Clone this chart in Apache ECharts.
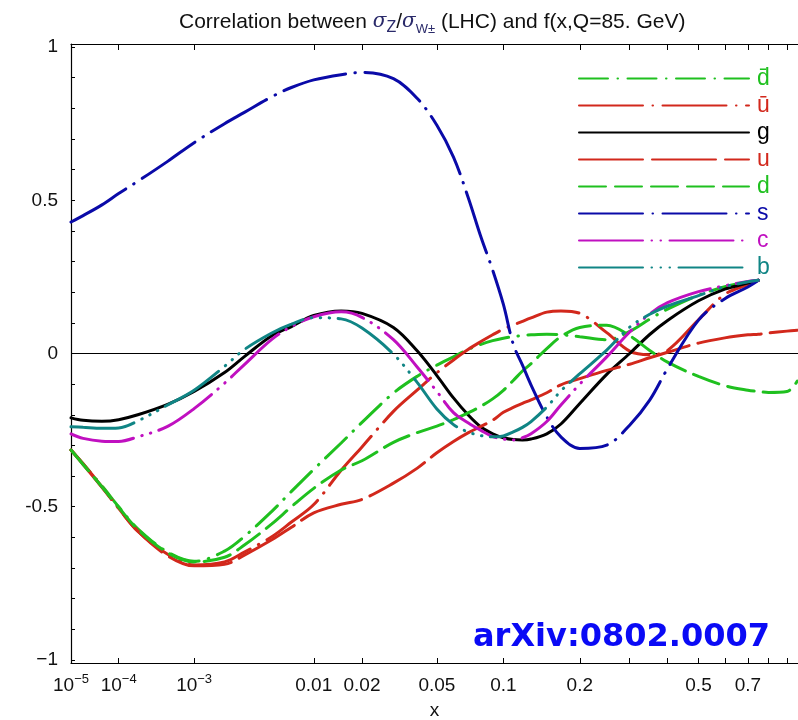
<!DOCTYPE html>
<html>
<head>
<meta charset="utf-8">
<script src="https://cdn.jsdelivr.net/npm/echarts@6/dist/echarts.min.js"></script>
<style>
  html, body { margin: 0; padding: 0; background: #fff; }
  #chart { width: 798px; height: 720px; }
</style>
</head>
<body>
<div id="chart"></div>
<script>
// x grid (momentum fraction) shared by all curves
const xValues = [1e-5, 2e-5, 5e-5, 1e-4, 2e-4, 5e-4, 1e-3, 2e-3, 3e-3, 5e-3, 7e-3,
  0.01, 0.015, 0.02, 0.03, 0.04, 0.05, 0.06, 0.07, 0.08, 0.09, 0.1, 0.11, 0.12, 0.13,
  0.15, 0.17, 0.2, 0.25, 0.3, 0.35, 0.4, 0.5, 0.6, 0.7, 0.75, 0.8, 0.9, 0.96];

// correlation cos(phi) for each parton flavour
const dbarValues = [-0.315, -0.360, -0.432, -0.500, -0.572, -0.648, -0.678, -0.645, -0.597, -0.515, -0.450,
  -0.378, -0.292, -0.225, -0.129, -0.074, -0.038, -0.011, 0.013, 0.030, 0.042, 0.050, 0.055, 0.059, 0.061,
  0.063, 0.061, 0.055, 0.045, 0.072, 0.112, 0.145, 0.190, 0.218, 0.233, 0.239];
const ubarValues = [-0.315, -0.362, -0.437, -0.505, -0.580, -0.655, -0.690, -0.680, -0.648, -0.598, -0.550,
  -0.493, -0.381, -0.305, -0.189, -0.119, -0.063, -0.021, 0.013, 0.039, 0.061, 0.080, 0.093, 0.105, 0.116,
  0.135, 0.139, 0.131, 0.068, 0.008, -0.004, 0.010, 0.110, 0.193, 0.225, 0.239];
const gValues = [-0.210, -0.218, -0.221, -0.216, -0.200, -0.166, -0.124, -0.062, -0.010, 0.058, 0.088,
  0.124, 0.139, 0.131, 0.085, 0.008, -0.072, -0.145, -0.200, -0.240, -0.262, -0.275, -0.281, -0.282, -0.279,
  -0.262, -0.230, -0.163, -0.068, 0.000, 0.062, 0.108, 0.172, 0.210, 0.230, 0.239];
const uValues = [-0.315, -0.360, -0.435, -0.505, -0.580, -0.660, -0.693, -0.688, -0.658, -0.608, -0.567,
  -0.520, -0.492, -0.476, -0.423, -0.374, -0.324, -0.287, -0.259, -0.238, -0.218, -0.192, -0.176, -0.163, -0.151,
  -0.128, -0.102, -0.082, -0.055, -0.035, -0.014, 0.004, 0.034, 0.051, 0.061, 0.063, 0.067, 0.073, 0.076];
const dValues = [-0.315, -0.362, -0.435, -0.502, -0.574, -0.650, -0.680, -0.665, -0.625, -0.556, -0.500,
  -0.440, -0.380, -0.350, -0.290, -0.258, -0.237, -0.216, -0.194, -0.172, -0.148, -0.120, -0.088, -0.057, -0.033,
  0.016, 0.055, 0.085, 0.092, 0.058, 0.010, -0.028, -0.075, -0.105, -0.120, -0.124, -0.127, -0.124, -0.090];
const sValues = [0.429, 0.450, 0.485, 0.522, 0.562, 0.627, 0.688, 0.750, 0.787, 0.838, 0.868,
  0.893, 0.910, 0.917, 0.897, 0.832, 0.745, 0.641, 0.511, 0.380, 0.272, 0.160, 0.030, -0.038, -0.103,
  -0.207, -0.272, -0.310, -0.299, -0.234, -0.152, -0.049, 0.109, 0.179, 0.217, 0.239];
const cValues = [-0.262, -0.277, -0.286, -0.287, -0.272, -0.238, -0.180, -0.097, -0.036, 0.046, 0.088,
  0.120, 0.136, 0.118, 0.045, -0.045, -0.124, -0.193, -0.226, -0.251, -0.271, -0.279, -0.282, -0.275, -0.262,
  -0.222, -0.168, -0.100, -0.011, 0.070, 0.129, 0.166, 0.202, 0.221, 0.235, 0.239];
const bValues = [-0.239, -0.241, -0.244, -0.243, -0.220, -0.168, -0.120, -0.042, 0.013, 0.067, 0.096,
  0.117, 0.113, 0.083, -0.002, -0.095, -0.181, -0.232, -0.256, -0.268, -0.272, -0.269, -0.256, -0.241, -0.222,
  -0.175, -0.122, -0.066, 0.011, 0.086, 0.128, 0.155, 0.189, 0.218, 0.234, 0.239];

// axis ticks and labels
const xTickValues = [1e-5, 1e-4, 1e-3, 0.01, 0.02, 0.05, 0.1, 0.2, 0.3, 0.4, 0.5, 0.6, 0.7, 0.8, 0.9];
const xLabelValues = [1e-5, 1e-4, 1e-3, 0.01, 0.02, 0.05, 0.1, 0.2, 0.5, 0.7];
const xLabelTexts = ['{b|10}{s|\u22125}', '{b|10}{s|\u22124}', '{b|10}{s|\u22123}',
  '{b|0.01}', '{b|0.02}', '{b|0.05}', '{b|0.1}', '{b|0.2}', '{b|0.5}', '{b|0.7}'];
const yTickValues = [-1, -0.9, -0.8, -0.7, -0.6, -0.5, -0.4, -0.3, -0.2, -0.1, 0,
  0.1, 0.2, 0.3, 0.4, 0.5, 0.6, 0.7, 0.8, 0.9, 1];
const yLabelValues = [-1, -0.5, 0, 0.5, 1];
const yLabelTexts = ['\u22121', '-0.5', '0', '0.5', '1'];

// horizontal scale: x is plotted as x^0.2
const POWER = 0.2;
const tx = x => Math.pow(x, POWER);
const X_MIN = tx(1e-5) - 1e-9;
const X_MAX = 0.99273;

const FONT = 'Liberation Sans';

function curve(values) {
  return values.map((y, i) => [tx(xValues[i]), y]);
}

const curves = [
  { name: 'd\u0304', values: dbarValues, color: '#1fc01f', dash: [29, 9.5, 0.5, 9.5] },
  { name: 'u\u0304', values: ubarValues, color: '#d2281c', dash: [64, 9.5, 0.5, 9.5] },
  { name: 'g', values: gValues, color: '#000000', dash: 'solid' },
  { name: 'u', values: uValues, color: '#d2281c', dash: [64, 9] },
  { name: 'd', values: dValues, color: '#1fc01f', dash: [27, 9] },
  { name: 's', values: sValues, color: '#0a0aa8', dash: [64, 9.5, 0.5, 9.5] },
  { name: 'c', values: cValues, color: '#c010c0', dash: [64, 8.5, 0.5, 8.5, 0.5, 8.5] },
  { name: 'b', values: bValues, color: '#108585', dash: [64, 8.5, 0.5, 8.5, 0.5, 8.5, 0.5, 8.5] }
];

function labelFor(values, texts) {
  return function (v) {
    for (let i = 0; i < values.length; i++) {
      if (Math.abs(values[i] - v) < 1e-6) return texts[i];
    }
    return '';
  };
}

const xAxisCommon = {
  type: 'value',
  min: X_MIN,
  max: X_MAX,
  splitLine: { show: false },
  axisLine: { show: true, onZero: false, lineStyle: { color: '#000', width: 1.2 } },
  axisTick: { show: true, inside: true, length: 5, lineStyle: { color: '#000' },
    customValues: xTickValues.map(tx) }
};

const series = curves.map((c, idx) => ({
  name: c.name,
  type: 'line',
  data: curve(c.values),
  smooth: 0.35,
  symbol: 'none',
  showSymbol: false,
  z: 3 + idx,
  lineStyle: { color: c.color, width: 3, type: c.dash, cap: 'round' },
  itemStyle: { color: c.color }
}));

// thin reference line at zero correlation
series.push({
  name: 'zero',
  type: 'line',
  data: [[X_MIN, 0], [X_MAX, 0]],
  symbol: 'none',
  silent: true,
  z: 2,
  lineStyle: { color: '#000', width: 1.2, type: 'solid' }
});

const chart = echarts.init(document.getElementById('chart'), null, { renderer: 'canvas' });
chart.setOption({
  animation: false,
  backgroundColor: '#fff',
  title: {
    left: 174,
    top: 3,
    text: '{n|Correlation between }{g|\u03c3}{sub|Z}{n|/}{g|\u03c3}{sub2|W\u00b1}{n| (LHC) and f(x,Q=85. GeV)}',
    textStyle: {
      fontWeight: 'normal',
      rich: {
        n: { fontFamily: FONT, fontWeight: 'normal', fontSize: 21, color: '#111', lineHeight: 28 },
        g: { fontFamily: 'DejaVu Serif', fontStyle: 'italic', fontWeight: 'normal', fontSize: 20, color: '#2a2a6a', lineHeight: 28 },
        sub: { fontFamily: FONT, fontWeight: 'normal', fontSize: 16, color: '#2a2a6a', verticalAlign: 'bottom', lineHeight: 21 },
        sub2: { fontFamily: FONT, fontWeight: 'normal', fontSize: 13, color: '#2a2a6a', verticalAlign: 'bottom', lineHeight: 21 }
      }
    }
  },
  grid: { left: 71, right: 0, top: 44, bottom: 57, containLabel: false, outerBoundsMode: 'none' },
  legend: {
    orient: 'vertical',
    left: 578,
    top: 67,
    padding: 0,
    itemWidth: 170,
    itemHeight: 20,
    itemGap: 4,
    selectedMode: false,
    itemStyle: { opacity: 0 },
    data: curves.map(c => ({ name: c.name, textStyle: { color: c.color } })),
    textStyle: { fontFamily: FONT, fontSize: 23, lineHeight: 20, padding: [0, 0, 0, 3] }
  },
  xAxis: [
    Object.assign({}, xAxisCommon, {
      position: 'bottom',
      name: 'x',
      nameLocation: 'middle',
      nameGap: 38,
      nameTextStyle: { fontFamily: FONT, fontSize: 19, color: '#111' },
      axisLabel: {
        show: true,
        margin: 10,
        showMinLabel: true,
        showMaxLabel: true,
        customValues: xLabelValues.map(tx),
        formatter: labelFor(xLabelValues.map(tx), xLabelTexts),
        rich: {
          b: { fontFamily: FONT, fontSize: 19, color: '#111', lineHeight: 26 },
          s: { fontFamily: FONT, fontSize: 13, color: '#111', verticalAlign: 'top', lineHeight: 14 }
        }
      }
    }),
    Object.assign({}, xAxisCommon, {
      position: 'top',
      axisLabel: { show: false },
      axisTick: Object.assign({}, xAxisCommon.axisTick, { length: 6 })
    })
  ],
  yAxis: {
    type: 'value',
    min: -1.01,
    max: 1.01,
    splitLine: { show: false },
    axisLine: { show: true, onZero: false, lineStyle: { color: '#000', width: 1.2 } },
    axisTick: { show: true, inside: true, length: 4, lineStyle: { color: '#000' },
      customValues: yTickValues },
    axisLabel: {
      show: true,
      margin: 13,
      customValues: yLabelValues,
      formatter: labelFor(yLabelValues, yLabelTexts),
      fontFamily: FONT,
      fontSize: 19,
      color: '#111'
    }
  },
  graphic: [{
    type: 'text',
    left: 473,
    top: 622,
    z: 100,
    style: {
      text: 'arXiv:0802.0007',
      fontFamily: 'DejaVu Sans',
      fontWeight: 'bold',
      fontSize: 32,
      fill: '#0a0af5'
    }
  }],
  series: series
});
</script>
</body>
</html>
